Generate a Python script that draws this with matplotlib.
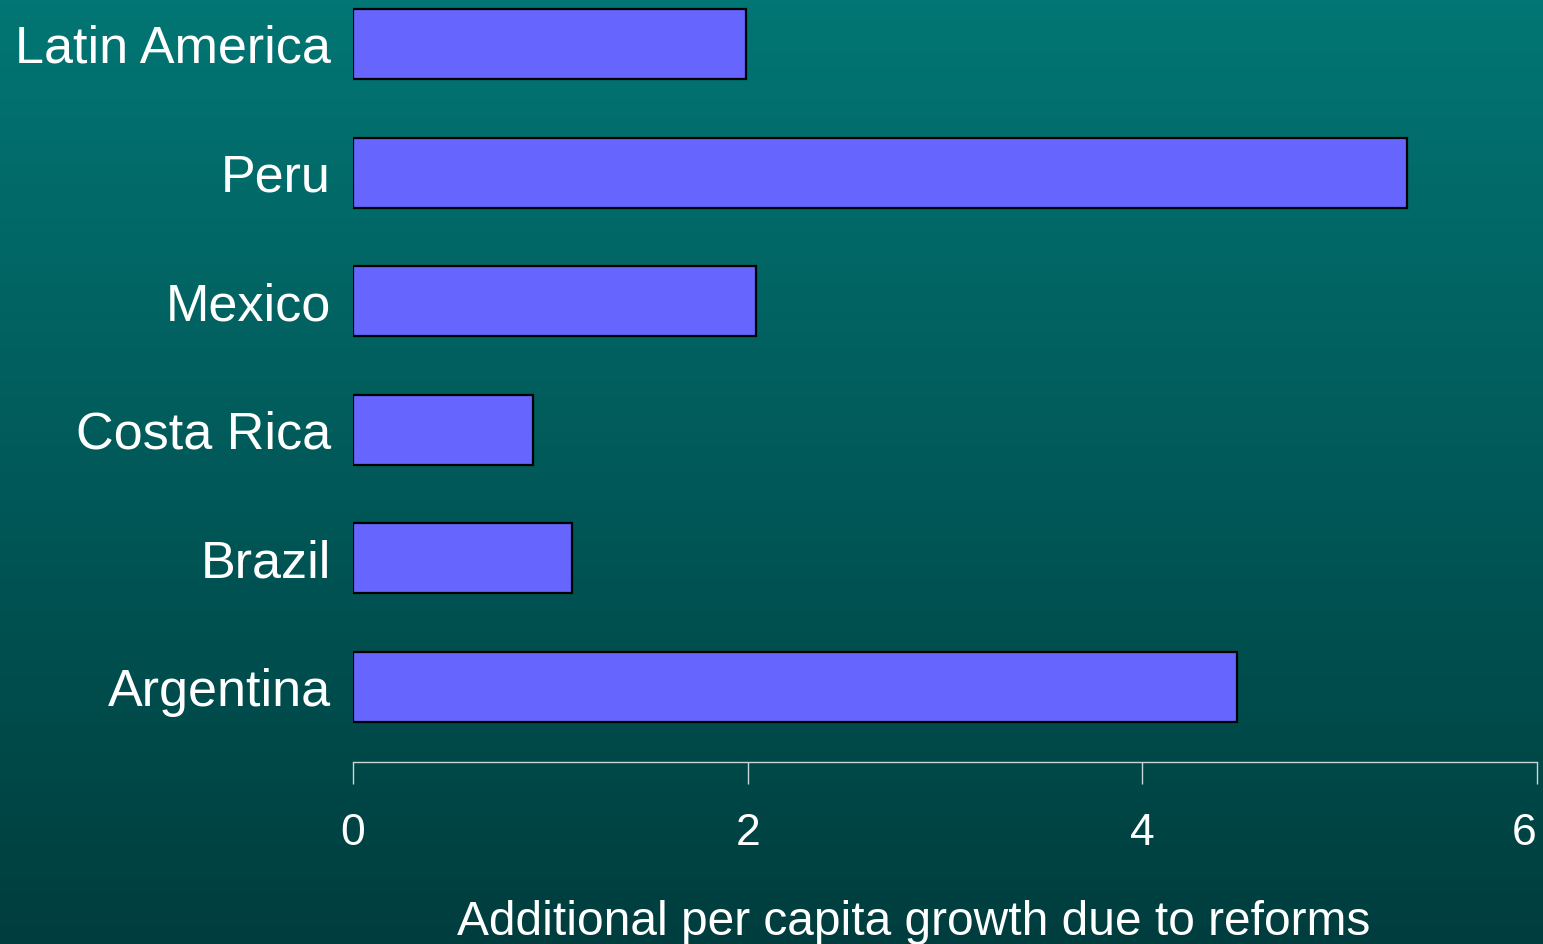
import matplotlib.pyplot as plt
import numpy as np
from matplotlib.colors import LinearSegmentedColormap

countries = ['Argentina', 'Brazil', 'Costa Rica', 'Mexico', 'Peru', 'Latin America']
growth = [4.48, 1.11, 0.91, 2.04, 5.34, 1.99]
xticks = [0, 2, 4, 6]

plt.rcParams['font.family'] = ['Liberation Sans', 'DejaVu Sans']

fig = plt.figure(figsize=(15.43, 9.44), dpi=100)

# gradient background
bg = fig.add_axes([0, 0, 1, 1], zorder=0)
grad = np.linspace(0, 1, 256).reshape(-1, 1)
cmap = LinearSegmentedColormap.from_list('bg', ['#027674', '#003d3e'])
bg.imshow(grad, aspect='auto', cmap=cmap, extent=[0, 1, 0, 1])
bg.axis('off')

ax = fig.add_axes([353 / 1543, (944 - 762) / 944, (1537 - 353) / 1543, 762 / 944], zorder=1)
ax.patch.set_visible(False)

y = np.arange(len(countries))
ax.barh(y, growth, height=0.545, color='#6666ff', edgecolor='black', linewidth=1.6)

ax.set_xlim(0, 6)
ax.set_ylim(-0.583, 5.342)
ax.set_xticks(xticks)
ax.set_xticklabels([str(t) for t in xticks], fontsize=32, color='white')
ax.set_yticks(y)
ax.set_yticklabels(countries, fontsize=37.5, color='white', va='center_baseline')

for s in ['top', 'right', 'left']:
    ax.spines[s].set_visible(False)
ax.spines['bottom'].set_color('#c8d6d6')
ax.spines['bottom'].set_linewidth(1)
ax.tick_params(axis='y', length=0, pad=16)
ax.tick_params(axis='x', direction='out', length=16, width=1, color='#c8d6d6', pad=21)
# last tick label sits at the right edge
ax.get_xticklabels()[-1].set_ha('right')

fig.text(914 / 1543, 9 / 944, 'Additional per capita growth due to reforms',
         ha='center', va='baseline', fontsize=34.5, color='white')

fig.savefig('out.png', dpi=100)
